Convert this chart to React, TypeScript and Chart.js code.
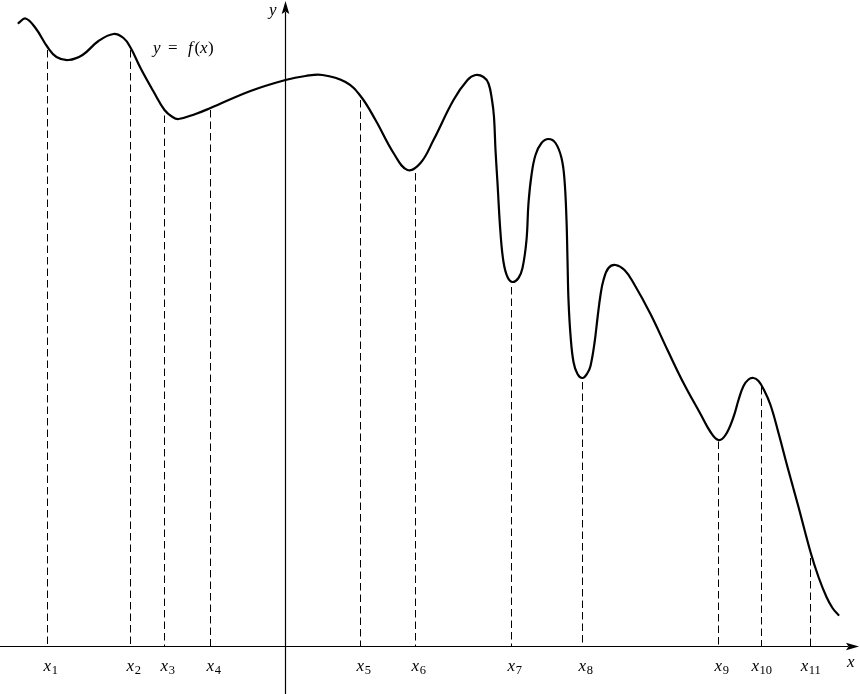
import React, { useEffect, useRef } from "react";
import { Chart, registerables } from "chart.js";

Chart.register(...registerables);

// ---- data (1 unit = 10 px of the reference; origin where the axes cross) ----
const curveX = [
  -26.7, -26.0, -25.0, -23.8, -22.9, -21.7, -20.3, -18.7, -17.2, -16.2, -15.5, -14.5, -13.2, -12.1,
  -11.3, -10.7, -9.0, -7.5, -3.5, 0.0, 2.0, 3.7, 6.0, 7.5, 9.0, 10.8, 12.2, 13.5, 14.8, 16.8, 18.2,
  19.0, 19.8, 20.3, 20.65, 20.85, 21.0, 21.2, 21.5, 21.8, 22.2, 22.7, 23.3, 23.7, 24.1, 24.3, 24.6,
  25.0, 25.6, 26.3, 27.0, 27.6, 27.9, 28.1, 28.2, 28.3, 28.5, 28.8, 29.2, 29.7, 30.2, 30.5, 30.9,
  31.2, 31.5, 31.8, 32.3, 33.0, 33.9, 34.8, 36.5, 38.2, 39.8, 41.5, 42.5, 43.3, 44.0, 44.8, 45.3,
  45.8, 46.3, 46.8, 47.3, 47.8, 48.5, 49.3, 50.2, 51.3, 52.5, 53.3, 54.1, 54.7, 55.3,
];
const curveY = [
  62.35, 62.8, 61.85, 59.95, 58.95, 58.65, 59.15, 60.55, 61.25, 60.85, 59.9, 57.85, 55.5, 53.65,
  52.95, 52.75, 53.25, 53.85, 55.55, 56.65, 57.05, 57.15, 56.45, 55.05, 52.65, 49.35, 47.65, 48.35,
  50.65, 54.65, 56.65, 57.15, 56.95, 56.3, 54.65, 52.95, 49.65, 46.35, 41.35, 38.45, 36.95, 36.45,
  36.85, 37.85, 40.65, 44.35, 47.15, 49.15, 50.35, 50.75, 50.35, 48.85, 46.65, 42.65, 38.65, 34.65,
  31.15, 28.45, 27.25, 26.85, 27.35, 28.05, 30.35, 32.85, 35.15, 36.65, 37.85, 38.15, 37.65, 36.35,
  33.25, 29.65, 26.35, 23.25, 21.45, 20.65, 21.15, 22.95, 24.65, 26.05, 26.7, 26.85, 26.55, 25.75,
  24.15, 21.35, 17.95, 13.95, 9.45, 6.95, 4.95, 3.85, 3.15,
];
const markerSubs = ["1", "2", "3", "4", "5", "6", "7", "8", "9", "10", "11"];
const markerX = [-23.8, -15.5, -12.1, -7.5, 7.5, 13.0, 22.6, 29.7, 43.3, 47.6, 52.5];
const markerTop = [59.65, 59.65, 53.1, 53.65, 54.65, 47.35, 35.95, 26.45, 20.5, 25.95, 8.85];
const axisNameX = "x";
const axisNameY = "y";
const curveName: [string, boolean, number][] = [
  ["y", true, 0],
  ["=", false, 15],
  ["f", true, 35],
  ["(", false, 41.5],
  ["x", true, 47],
  [")", false, 55],
];

// ---- view ----
const X_MIN = -28.55;
const X_MAX = 57.45;
const Y_MIN = -4.75;
const Y_MAX = 64.65;
const X_TIP = 57.35;
const Y_TIP = 64.55;
const CURVE_LABEL_AT = { x: -13.25, y: 59.35 };

const SERIF = '"Liberation Serif", "DejaVu Serif", serif';

function arrow(ctx: CanvasRenderingContext2D, tx: number, ty: number, dx: number, dy: number) {
  const len = 13;
  const half = 3.8;
  const inset = 2.5;
  const px = -dy;
  const py = dx;
  const bx = tx - dx * len;
  const by = ty - dy * len;
  ctx.beginPath();
  ctx.moveTo(tx, ty);
  ctx.lineTo(bx + px * half, by + py * half);
  ctx.lineTo(bx + dx * inset, by + dy * inset);
  ctx.lineTo(bx - px * half, by - py * half);
  ctx.closePath();
  ctx.fill();
}

const mathPlugin = {
  id: "mathAxes",
  beforeDatasetsDraw(chart: any) {
    const { ctx, scales } = chart;
    const xs = scales.x;
    const ys = scales.y;
    const ox = xs.getPixelForValue(0);
    const oy = ys.getPixelForValue(0);
    const xl = xs.getPixelForValue(X_MIN);
    const xr = xs.getPixelForValue(X_TIP);
    const yb = ys.getPixelForValue(Y_MIN);
    const yt = ys.getPixelForValue(Y_TIP);
    ctx.save();
    ctx.strokeStyle = "#000";
    ctx.fillStyle = "#000";
    ctx.lineWidth = 1.2;
    ctx.beginPath();
    ctx.moveTo(xl, oy);
    ctx.lineTo(xr - 11, oy);
    ctx.moveTo(ox, yb);
    ctx.lineTo(ox, yt + 11);
    ctx.stroke();
    arrow(ctx, xr, oy, 1, 0);
    arrow(ctx, ox, yt, 0, -1);
    ctx.restore();
  },
  afterDatasetsDraw(chart: any) {
    const { ctx, scales } = chart;
    const xs = scales.x;
    const ys = scales.y;
    const ox = xs.getPixelForValue(0);
    const oy = ys.getPixelForValue(0);
    ctx.save();
    ctx.fillStyle = "#000";
    ctx.textBaseline = "alphabetic";
    const mainFont = `italic 17px ${SERIF}`;
    const subFont = `12.5px ${SERIF}`;

    markerX.forEach((mx, i) => {
      const sub = markerSubs[i];
      ctx.font = mainFont;
      const w1 = ctx.measureText("x").width;
      ctx.font = subFont;
      const w2 = ctx.measureText(sub).width;
      const cx = xs.getPixelForValue(mx) + (sub.length === 1 ? 3 : 0);
      const left = cx - (w1 + w2) / 2;
      const base = oy + 24.5;
      ctx.font = mainFont;
      ctx.textAlign = "left";
      ctx.fillText("x", left, base);
      ctx.font = subFont;
      ctx.fillText(sub, left + w1 + 0.5, base + 3);
    });

    // axis names
    ctx.font = mainFont;
    ctx.textAlign = "left";
    ctx.fillText(axisNameX, xs.getPixelForValue(X_TIP) - 12, oy + 20.5);
    ctx.textAlign = "right";
    ctx.fillText(axisNameY, ox - 9, ys.getPixelForValue(Y_TIP) + 14);

    // curve label
    const lx = xs.getPixelForValue(CURVE_LABEL_AT.x);
    const ly = ys.getPixelForValue(CURVE_LABEL_AT.y);
    ctx.textAlign = "left";
    curveName.forEach(([t, it, dx]) => {
      ctx.font = it ? `italic 17px ${SERIF}` : `17px ${SERIF}`;
      ctx.fillText(t, lx + dx, ly);
    });
    ctx.restore();
  },
};

export default function App() {
  const ref = useRef<HTMLCanvasElement | null>(null);

  useEffect(() => {
    if (!ref.current) return;
    const curve = curveX.map((x, i) => ({ x, y: curveY[i] }));
    const markers = markerX.map((x, i) => ({
      data: [
        { x, y: markerTop[i] },
        { x, y: 0 },
      ],
      showLine: true,
      borderColor: "#000",
      borderWidth: 1,
      borderDash: [7.5, 4],
      pointRadius: 0,
      tension: 0,
    }));
    const chart = new Chart(ref.current, {
      type: "scatter",
      data: {
        datasets: [
          {
            data: curve,
            showLine: true,
            borderColor: "#000",
            borderWidth: 2.2,
            pointRadius: 0,
            tension: 0.4,
            borderCapStyle: "round",
            borderJoinStyle: "round",
          } as any,
          ...(markers as any[]),
        ],
      },
      options: {
        animation: false,
        responsive: false,
        events: [],
        layout: { padding: 0 },
        plugins: { legend: { display: false }, tooltip: { enabled: false } },
        scales: {
          x: { type: "linear", min: X_MIN, max: X_MAX, display: false },
          y: { type: "linear", min: Y_MIN, max: Y_MAX, display: false },
        },
      },
      plugins: [mathPlugin],
    });
    return () => chart.destroy();
  }, []);

  return (
    <div style={{ position: "fixed", left: 0, top: 0, width: 860, height: 694, background: "#fff" }}>
      <canvas ref={ref} width={860} height={694} />
    </div>
  );
}
